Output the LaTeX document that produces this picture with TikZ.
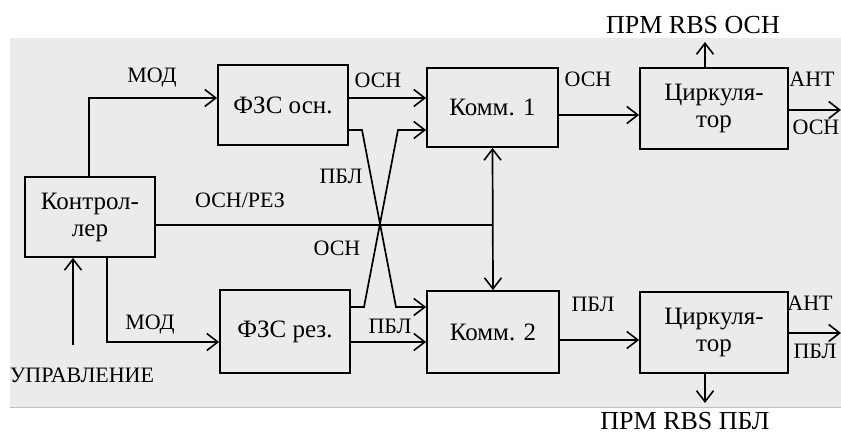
\documentclass[tikz,border=0pt]{standalone}
\usepackage{fontspec}
\setmainfont{Liberation Serif}
\usetikzlibrary{arrows.meta}
\begin{document}
\begin{tikzpicture}[x=1pt,y=-1pt,
  box/.style={draw, line width=1.8pt, inner sep=0pt, align=center,
    font=\fontsize{25}{27}\selectfont},
  lbl/.style={inner sep=0pt, font=\fontsize{22}{24}\selectfont},
  big/.style={inner sep=0pt, font=\fontsize{26}{28}\selectfont},
  ln/.style={line width=1.7pt},
  arr/.style={ln, -{Straight Barb[length=11pt,width=17pt,line width=1.6pt]}},
  arr2/.style={ln, {Straight Barb[length=11pt,width=17pt,line width=1.6pt]}-{Straight Barb[length=11pt,width=17pt,line width=1.6pt]}}]
\useasboundingbox (0,0) rectangle (841,435);
\fill[black!8] (10,38) rectangle (841,407);
\draw[black!25, line width=0.8pt] (10,407) -- (841,407);

% boxes
\node[box, minimum width=130pt, minimum height=80pt] (fo) at (283,105) {ФЗС осн.};
\node[box, minimum width=131pt, minimum height=79pt] (k1) at (492.5,107.5) {Комм. 1};
\node[box, minimum width=148pt, minimum height=81pt] (c1) at (714,108.5) {Циркуля-\\тор};
\node[box, minimum width=130pt, minimum height=80pt] (ctrl) at (90,217) {Контрол-\\лер};
\node[box, minimum width=130pt, minimum height=83pt] (fr) at (285,331.5) {ФЗС рез.};
\node[box, minimum width=132pt, minimum height=82pt] (k2) at (493,332) {Комм. 2};
\node[box, minimum width=148pt, minimum height=81pt] (c2) at (714,332.5) {Циркуля-\\тор};

% free ends
\coordinate (uprin) at (73,345);
\coordinate (a1) at (362,130);
\coordinate (a2) at (396,307);
\coordinate (b1) at (364,307);
\coordinate (b2) at (398,130);
\coordinate (o1) at (841,110);
\coordinate (o2) at (841,333);
\coordinate (r1) at (705,42);
\coordinate (r2) at (705,403);

% labels
\node[lbl] (lmod1) at (152,78) {МОД};
\node[lbl] (lmod2) at (150,325) {МОД};
\node[lbl] (lupr) at (82,375) {УПРАВЛЕНИЕ};
\node[lbl] (losnrez) at (240,200) {ОСН/РЕЗ};
\node[lbl] (losn2) at (337,248) {ОСН};
\node[lbl] (lpbl1) at (341,176) {ПБЛ};
\node[lbl] (losn1) at (378,80) {ОСН};
\node[lbl] (lpbl2) at (390,326) {ПБЛ};
\node[lbl] (losn3) at (588,79) {ОСН};
\node[lbl] (lpbl3) at (593,304) {ПБЛ};
\node[lbl] (lant1) at (812,79) {АНТ};
\node[lbl] (losn4) at (816,127) {ОСН};
\node[lbl] (lant2) at (810,303) {АНТ};
\node[lbl] (lpbl4) at (815,351) {ПБЛ};
\node[big] (lrbs1) at (693,25) {ПРМ RBS ОСН};
\node[big] (lrbs2) at (685,421) {ПРМ RBS ПБЛ};

% connectors
\draw[arr] ([xshift=-1pt]ctrl.north) |- ([yshift=7pt]fo.west);
\draw[arr] ([xshift=17pt]ctrl.south) |- ([yshift=-10.5pt]fr.west);
\draw[arr] (uprin) -- (uprin |- ctrl.south);
\draw[ln] ([yshift=-8pt]ctrl.east) -- ([yshift=-8pt]ctrl.east -| k1.south);
\draw[arr2] (k1.south) -- (k2.north);
\draw[arr] ([yshift=7pt]fo.east) -- ([yshift=7pt]fo.east -| k1.west);
\draw[arr] (fo.east |- a1) -- (a1) -- (a2) -- (a2 -| k2.west);
\draw[arr] (fr.east |- b1) -- (b1) -- (b2) -- (b2 -| k1.west);
\draw[arr] ([yshift=-10.5pt]fr.east) -- ([yshift=-10.5pt]fr.east -| k2.west);
\draw[arr] ([yshift=-7.5pt]k1.east) -- ([yshift=-7.5pt]k1.east -| c1.west);
\draw[arr] ([yshift=-8pt]k2.east) -- ([yshift=-8pt]k2.east -| c2.west);
\draw[arr] (c1.east |- o1) -- (o1);
\draw[arr] (c2.east |- o2) -- (o2);
\draw[arr] (c1.north -| r1) -- (r1);
\draw[arr] (c2.south -| r2) -- (r2);
\end{tikzpicture}
\end{document}
